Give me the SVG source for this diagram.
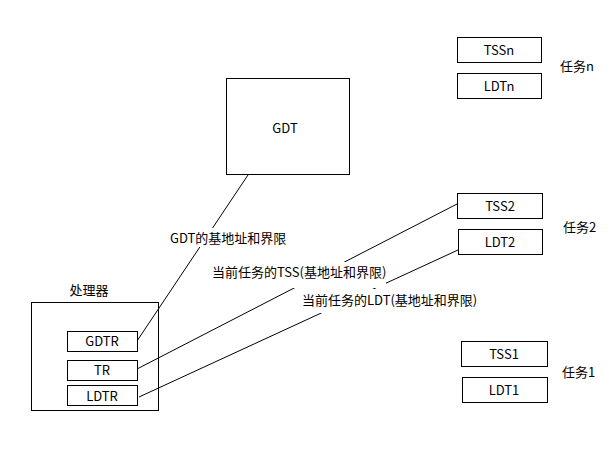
<svg xmlns="http://www.w3.org/2000/svg" width="614" height="460" viewBox="0 0 614 460">
<style>
.box{fill:#fff;stroke:#000;stroke-width:1}
.t{font-family:"Noto Sans CJK SC","Noto Sans",sans-serif;font-size:13px;fill:#000}
.c{text-anchor:middle}
.ln{stroke:#000;stroke-width:1;fill:none}
.bg{fill:#fff}
</style>
<rect width="614" height="460" fill="#fff"/>
<g id="processor">
<rect class="box" x="31.5" y="302.5" width="127" height="108"/>
<text class="t c" x="89" y="295">处理器</text>
</g>
<g id="connectors">
<line class="ln" x1="137" y1="341" x2="248" y2="175"/>
<line class="ln" x1="137" y1="369" x2="457" y2="204"/>
<line class="ln" x1="139" y1="397" x2="458" y2="250"/>
</g>
<g id="label-gdt">
<rect class="bg" x="168" y="228" width="122" height="19"/>
<text class="t" x="170" y="243">GDT的基地址和界限</text>
</g>
<g id="label-tss">
<rect class="bg" x="210" y="262" width="176" height="26"/>
<text class="t" x="212" y="277">当前任务的TSS(基地址和界限)</text>
</g>
<g id="label-ldt">
<rect class="bg" x="300" y="289" width="177" height="24"/>
<text class="t" x="302" y="305">当前任务的LDT(基地址和界限)</text>
</g>
<g id="gdtr"><rect class="box" x="67.5" y="331.5" width="70" height="20"/><text class="t c" x="102" y="346">GDTR</text></g>
<g id="tr"><rect class="box" x="67.5" y="360.5" width="70" height="20"/><text class="t c" x="102" y="375">TR</text></g>
<g id="ldtr"><rect class="box" x="67.5" y="385.5" width="70" height="20"/><text class="t c" x="102" y="401">LDTR</text></g>
<g id="gdt"><rect class="box" x="226.5" y="78.5" width="123" height="96"/><text class="t c" x="285" y="133">GDT</text></g>
<g id="tssn"><rect class="box" x="457.5" y="37.5" width="84" height="25"/><text class="t c" x="499" y="55">TSSn</text></g>
<g id="ldtn"><rect class="box" x="457.5" y="73.5" width="84" height="25"/><text class="t c" x="499" y="91">LDTn</text></g>
<text class="t" x="560" y="71">任务n</text>
<g id="tss2"><rect class="box" x="457.5" y="193.5" width="85" height="25"/><text class="t c" x="500" y="211">TSS2</text></g>
<g id="ldt2"><rect class="box" x="458.5" y="229.5" width="84" height="25"/><text class="t c" x="500" y="247">LDT2</text></g>
<text class="t" x="563" y="232">任务2</text>
<g id="tss1"><rect class="box" x="461.5" y="341.5" width="86" height="25"/><text class="t c" x="504" y="359">TSS1</text></g>
<g id="ldt1"><rect class="box" x="462.5" y="377.5" width="85" height="25"/><text class="t c" x="504" y="395">LDT1</text></g>
<text class="t" x="562" y="377">任务1</text>
</svg>
